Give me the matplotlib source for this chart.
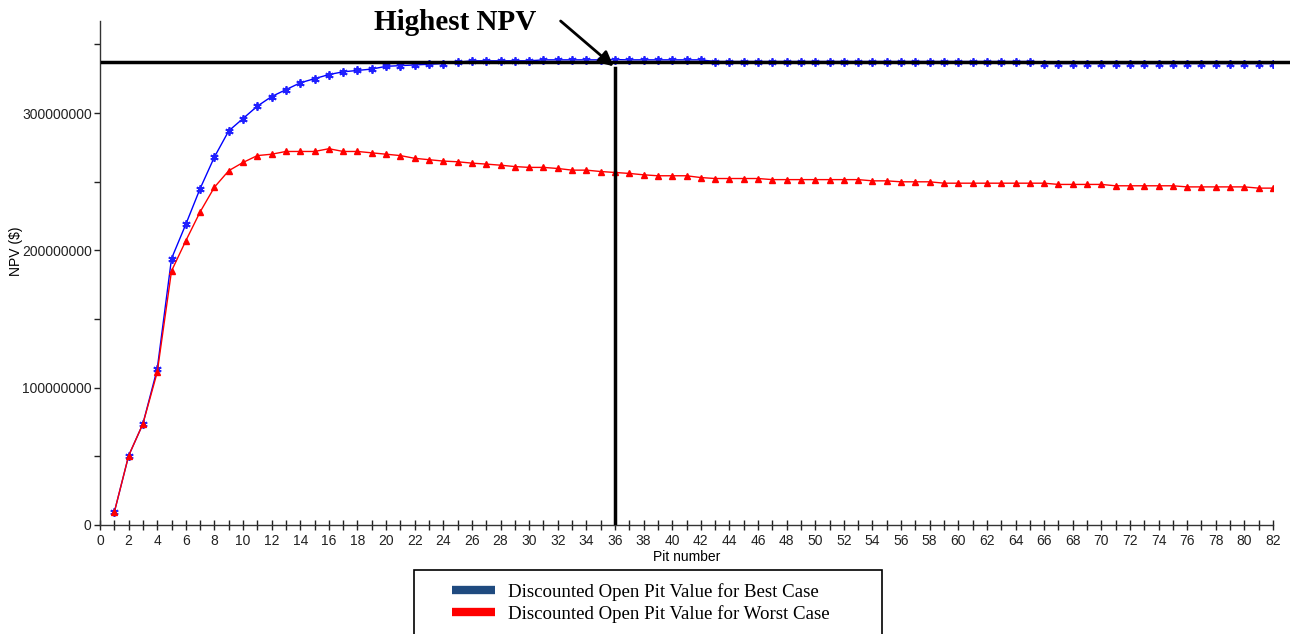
import numpy as np
import matplotlib
matplotlib.use('Agg')
import matplotlib.pyplot as plt
from matplotlib.lines import Line2D
from matplotlib.patches import Rectangle
from matplotlib.ticker import MultipleLocator

plt.rc('font', family='Liberation Sans', size=10)

# NPV per pit shell (in $)
pits = np.arange(1, 83)
best_case = [
    9.3e6, 50.4e6, 73.7e6, 113.6e6, 194e6, 219e6, 245e6, 268e6, 287e6, 296e6,
    305e6, 312e6, 317e6, 322e6, 325e6, 328e6, 330e6, 331e6, 332e6, 334e6,
    334.5e6, 335e6, 335.5e6, 336e6, 337e6, 338e6, 338e6, 338e6, 338e6, 338e6,
    338.7e6, 338.7e6, 338.7e6, 338.7e6, 338.7e6, 338.9e6, 338.7e6, 338.7e6, 338.7e6, 338.7e6,
    338.7e6, 338.7e6, 337.5e6, 337.5e6, 337.5e6, 337.5e6, 337.5e6, 337.5e6, 337.5e6, 337.5e6,
    337.5e6, 337.5e6, 337.5e6, 337.5e6, 337.5e6, 337.5e6, 337.5e6, 337.5e6, 337.5e6, 337.5e6,
    337.5e6, 337.5e6, 337.5e6, 337.5e6, 337.5e6, 336e6, 336e6, 336e6, 336e6, 336e6,
    336e6, 336e6, 336e6, 336e6, 336e6, 336e6, 336e6, 336e6, 336e6, 336e6,
    336e6, 336e6,
]
worst_case = [
    9.3e6, 50.4e6, 73.7e6, 111.2e6, 185e6, 207e6, 228e6, 246e6, 258e6, 264e6,
    269e6, 270e6, 272e6, 272e6, 272e6, 274e6, 272e6, 272e6, 271e6, 270e6,
    269e6, 267e6, 266e6, 265e6, 264.5e6, 263.5e6, 262.8e6, 262e6, 261e6, 260.4e6,
    260.4e6, 259.6e6, 258.4e6, 258.4e6, 257.4e6, 256.7e6, 256e6, 255e6, 254.3e6, 254.3e6,
    254.3e6, 253e6, 252.3e6, 252.3e6, 252.3e6, 252.3e6, 251.5e6, 251.5e6, 251.5e6, 251.5e6,
    251.5e6, 251.5e6, 251.5e6, 250.6e6, 250.6e6, 249.9e6, 249.9e6, 249.9e6, 248.9e6, 248.9e6,
    248.9e6, 248.9e6, 248.9e6, 248.9e6, 248.9e6, 248.9e6, 248e6, 248e6, 248e6, 248e6,
    247e6, 247e6, 247e6, 247e6, 247e6, 246.2e6, 246.2e6, 246.2e6, 246.2e6, 246.2e6,
    245.3e6, 245.3e6,
]
highest_pit = 36
highest_npv = 337.2e6

labels = ['Discounted Open Pit Value for Best Case',
          'Discounted Open Pit Value for Worst Case']

fig = plt.figure(figsize=(12.9, 6.34), dpi=100, facecolor='white')
ax = fig.add_axes([100/1290, 1 - 525/634, 1173/1290, 504/634])

ax.plot(pits, best_case, color='#0000ff', lw=1, marker=(6, 2, 0), ms=6,
        mew=1.3, mec='#2020ff')
ax.plot(pits, worst_case, color='#ff0000', lw=1, marker='^', ms=5,
        mec='#ff0000', mfc='#ff0000')

# highest NPV guide lines
ax.plot([0.15, 83.3], [highest_npv, highest_npv], color='black', lw=2.5,
        clip_on=False, zorder=3)
ax.plot([highest_pit, highest_pit], [0, 333e6], color='black', lw=2.5, zorder=3)

ax.annotate('', xy=(35.9, 334e6), xytext=(32.2, 367e6),
            arrowprops=dict(arrowstyle='-|>', color='black', lw=2,
                            mutation_scale=22, shrinkA=0, shrinkB=0),
            annotation_clip=False)
fig.text(455/1290, 1 - 30/634, 'Highest NPV', family='Liberation Serif',
         weight='bold', size=21, ha='center', va='baseline')

ax.set_xlim(0, 82)
ax.set_ylim(0, 367e6)
ax.xaxis.set_major_locator(MultipleLocator(2))
ax.xaxis.set_minor_locator(MultipleLocator(1))
ax.yaxis.set_major_locator(MultipleLocator(1e8))
ax.yaxis.set_minor_locator(MultipleLocator(5e7))
ax.yaxis.set_major_formatter(matplotlib.ticker.FuncFormatter(lambda v, p: '%d' % v))

for s in ['top', 'right']:
    ax.spines[s].set_visible(False)
for s in ['left', 'bottom']:
    ax.spines[s].set_linewidth(1)
    ax.spines[s].set_color('#333333')

ax.tick_params(axis='x', which='both', direction='inout', length=7, width=1,
               pad=3, labelsize=10, colors='#222222')
ax.tick_params(axis='y', which='both', direction='out', length=4, width=1,
               pad=2, labelsize=10, colors='#222222')

ax.set_xlabel('Pit number', fontsize=10)
ax.set_ylabel('NPV ($)', fontsize=10)
ax.xaxis.set_label_coords(0.5, -0.05)
ax.yaxis.set_label_coords(-0.066, 0.544)

# legend box runs off the bottom edge
fig.patches.append(Rectangle((414/1290, -0.05), 468/1290, 0.05 + (634-570)/634,
                             transform=fig.transFigure, fill=False,
                             edgecolor='black', lw=1.2))
handles = [Line2D([], [], color='#1f4a7f', lw=6, solid_capstyle='butt'),
           Line2D([], [], color='#ff0000', lw=6, solid_capstyle='butt')]
fig.legend(handles, labels, loc='upper left',
           bbox_to_anchor=(452/1290, 1 - 583/634), frameon=False,
           prop=dict(family='Liberation Serif', size=13.6),
           borderpad=0, borderaxespad=0, handlelength=2.3,
           handletextpad=0.65, labelspacing=0.22)

fig.savefig('out.png', dpi=100, facecolor='white')
